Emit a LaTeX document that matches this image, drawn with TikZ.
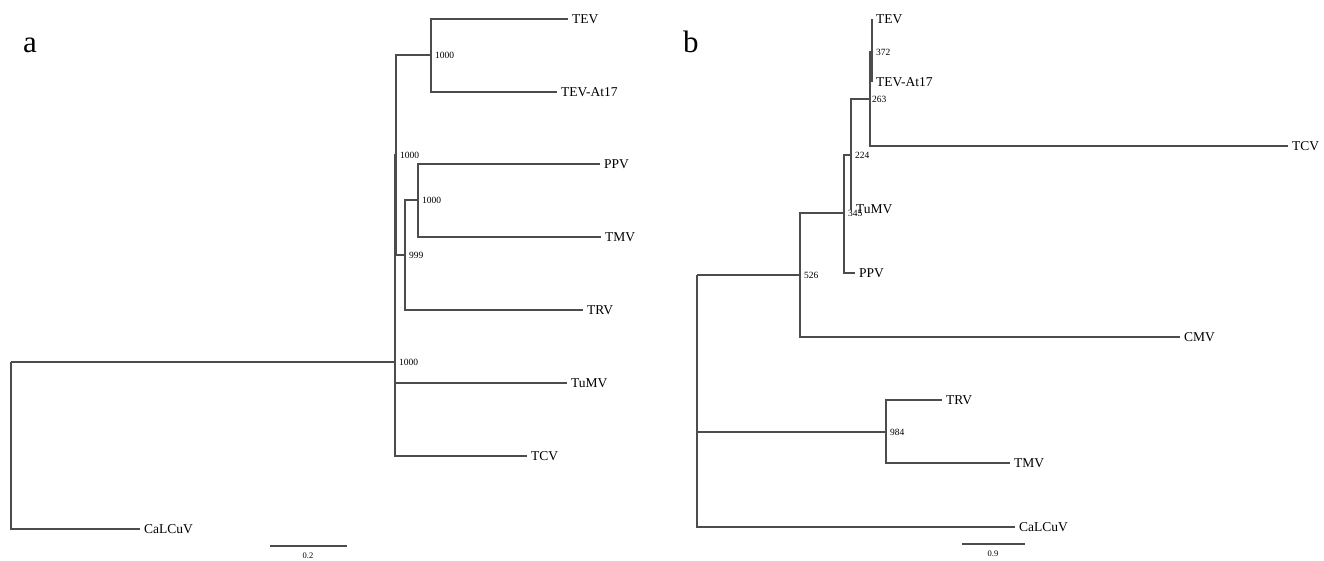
\documentclass[tikz,border=0pt]{standalone}
\usepackage{fontspec}
\setmainfont{Liberation Serif}
\usepackage{tikz}
\usetikzlibrary{positioning}
\tikzset{
  br/.style   ={draw=black!70, line width=1.1pt},
  leaf/.style ={anchor=west, inner xsep=4pt, inner ysep=0pt, font=\fontsize{13.5}{13.5}\selectfont},
  bs/.style   ={anchor=west, inner sep=0pt, xshift=4pt, font=\fontsize{9.5}{9.5}\selectfont},
  scl/.style  ={inner sep=0pt, font=\fontsize{8.5}{8.5}\selectfont},
  panel/.style={anchor=base west, inner sep=0pt, font=\fontsize{31}{31}\selectfont},
}

\begin{document}
\begin{tikzpicture}[x=1pt,y=-1pt]
\useasboundingbox (0,0) rectangle (1324,560);
\node[panel] (pa) at (23,52) {a};
\node[panel] (pb) at (683,52) {b};

% panel a
\coordinate (aR) at (11,362);
\coordinate (a1) at (395,362);
\coordinate (a2) at (396,155);
\coordinate (a3) at (405,255);
\coordinate (a4) at (431,55);
\coordinate (a5) at (418,200);
\node[leaf] (aTEV)  at (568,19)  {TEV};
\node[leaf] (aAt17) at (557,92)  {TEV-At17};
\node[leaf] (aPPV)  at (600,164) {PPV};
\node[leaf] (aTMV)  at (601,237) {TMV};
\node[leaf] (aTRV)  at (583,310) {TRV};
\node[leaf] (aTuMV) at (567,383) {TuMV};
\node[leaf] (aTCV)  at (527,456) {TCV};
\node[leaf] (aCal)  at (140,529) {CaLCuV};
\node[bs] (a1b) at (a1) {1000};
\node[bs] (a2b) at (a2) {1000};
\node[bs] (a3b) at (a3) {999};
\node[bs] (a4b) at (a4) {1000};
\node[bs] (a5b) at (a5) {1000};

\draw[br] (aR) -- (a1); \draw[br] (aR) |- (aCal.west);
\draw[br] (a1) |- (a2); \draw[br] (a1) |- (aTuMV.west); \draw[br] (a1) |- (aTCV.west);
\draw[br] (a2) |- (a4); \draw[br] (a2) |- (a3);
\draw[br] (a4) |- (aTEV.west); \draw[br] (a4) |- (aAt17.west);
\draw[br] (a3) |- (a5); \draw[br] (a3) |- (aTRV.west);
\draw[br] (a5) |- (aPPV.west); \draw[br] (a5) |- (aTMV.west);

\coordinate (as1) at (270,546);
\coordinate (as2) at (347,546);
\draw[br] (as1) -- (as2);
\node[scl] (asl) at (308,556) {0.2};

% panel b
\coordinate (bR) at (697,275);
\coordinate (b526) at (800,275);
\coordinate (b345) at (844,213);
\coordinate (b224) at (851,155);
\coordinate (b263) at (870,99);
\coordinate (b372) at (872,52);
\coordinate (b984) at (886,432);
\node[leaf] (bTEV)  at (872,19)   {TEV};
\node[leaf] (bAt17) at (872,82)   {TEV-At17};
\node[leaf] (bTCV)  at (1288,146) {TCV};
\node[leaf] (bTuMV) at (852,209)  {TuMV};
\node[leaf] (bPPV)  at (855,273)  {PPV};
\node[leaf] (bCMV)  at (1180,337) {CMV};
\node[leaf] (bTRV)  at (942,400)  {TRV};
\node[leaf] (bTMV)  at (1010,463) {TMV};
\node[leaf] (bCal)  at (1015,527) {CaLCuV};
\node[bs] (b372b) at (b372) {372};
\node[bs,xshift=-2pt] (b263b) at (b263) {263};
\node[bs] (b224b) at (b224) {224};
\node[bs] (b345b) at (b345) {345};
\node[bs] (b526b) at (b526) {526};
\node[bs] (b984b) at (b984) {984};

\draw[br] (bR) -- (b526); \draw[br] (bR) |- (b984); \draw[br] (bR) |- (bCal.west);
\draw[br] (b526) |- (b345); \draw[br] (b526) |- (bCMV.west);
\draw[br] (b345) |- (b224); \draw[br] (b345) |- (bPPV.west);
\draw[br] (b224) |- (b263); \draw[br] (b224) |- (bTuMV.west);
\draw[br] (b263) |- (b372); \draw[br] (b263) |- (bTCV.west);
\draw[br] (b372) |- (bTEV.west); \draw[br] (b372) |- (bAt17.west);
\draw[br] (b984) |- (bTRV.west); \draw[br] (b984) |- (bTMV.west);

\coordinate (bs1) at (962,544);
\coordinate (bs2) at (1025,544);
\draw[br] (bs1) -- (bs2);
\node[scl] (bsl) at (993,554) {0.9};
\end{tikzpicture}
\end{document}
